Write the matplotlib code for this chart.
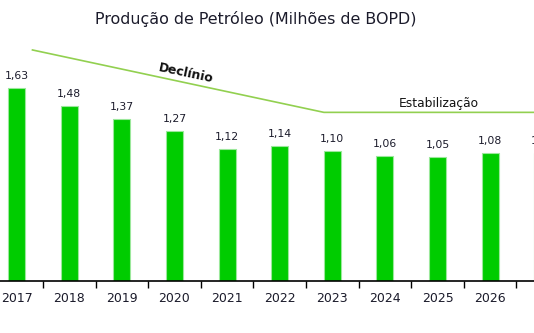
import matplotlib
matplotlib.use("Agg")
from matplotlib import pyplot as plt

anos = ['2017', '2018', '2019', '2020', '2021', '2022', '2023', '2024', '2025', '2026', '2027']
producao = [1.63, 1.48, 1.37, 1.27, 1.12, 1.14, 1.10, 1.06, 1.05, 1.08, 1.08]
rotulos = ['1,63', '1,48', '1,37', '1,27', '1,12', '1,14', '1,10', '1,06', '1,05', '1,08', '1,08']

# linha de tendencia (declinio -> estabilizacao), em coordenadas de dados
tend_x = [0.30, 5.84, 10.5]
tend_y = [1.955, 1.427, 1.427]

texto = '#1b1b2b'
verde = '#00cc00'
verde_linha = '#92d050'

fig = plt.figure(figsize=(5.34, 3.33), dpi=100)
ax = fig.add_axes([0, 52 / 333, 1, 236 / 333])

x = list(range(len(anos)))
ax.bar(x, producao, width=0.32, color=verde, edgecolor='#9be89b', linewidth=0.8)

for xi, v, r in zip(x, producao, rotulos):
    ax.text(xi, v + 0.06, r, ha='center', va='bottom', fontsize=7.8, color=texto, clip_on=False)

ax.plot(tend_x, tend_y, color=verde_linha, lw=1.2, clip_on=False)
ax.text(3.21, 1.755, 'Declínio', rotation=-12, ha='center', va='center',
        fontsize=9, fontweight='semibold', color='#111111')
ax.text(8.03, 1.50, 'Estabilização', ha='center', va='center',
        fontsize=8.8, color='#111111')

ax.set_xticks(x)
ax.set_xticklabels(anos, fontsize=9, color=texto)
ax.set_xticks([i + 0.5 for i in range(-1, len(anos))], minor=True)
ax.tick_params(axis='x', which='major', length=0, pad=8)
ax.tick_params(axis='x', which='minor', length=5, width=1, color='black')
ax.set_yticks([])
for s in ['top', 'left', 'right']:
    ax.spines[s].set_visible(False)
ax.spines['bottom'].set_linewidth(1.2)

# o grafico original esta recortado nas bordas
ax.set_xlim(-0.317, 9.834)
ax.set_ylim(0, 1.997)

fig.text(256 / 534, 1 - 19 / 333, 'Produção de Petróleo (Milhões de BOPD)',
         ha='center', va='center', fontsize=11.4, color=texto)

fig.savefig('out.png', dpi=100)
